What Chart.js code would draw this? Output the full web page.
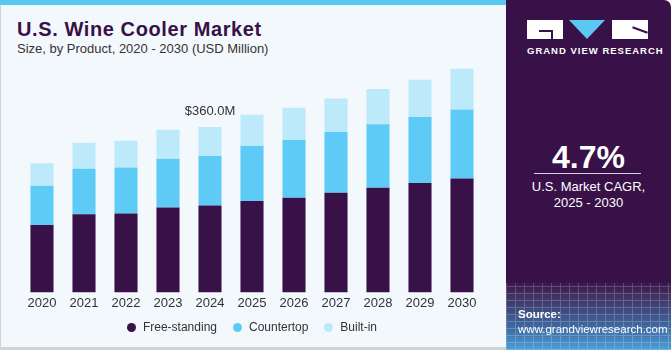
<!DOCTYPE html>
<html lang="en">
<head>
<meta charset="UTF-8">
<title>U.S. Wine Cooler Market</title>
<script src="https://cdn.jsdelivr.net/npm/chart.js"></script>
<style>
    body { margin: 0; width: 671px; height: 350px; overflow: hidden; font-family: "Liberation Sans", Arial, sans-serif; background: #fff; }
    .left-panel {
        position: absolute; left: 0; top: 0; width: 505px; height: 347px;
        background: #f3f8fc; border-left: 1px solid #d0d4d8; border-bottom: 3px solid #cfd3d6;
    }
    .stripe { position: absolute; left: 0; top: 0; width: 506px; height: 5px; background: #5bc8f2; }
    .title { position: absolute; left: 17px; top: 19px; font-size: 20px; line-height: 20px; font-weight: bold; letter-spacing: 0.6px; color: #371148; white-space: nowrap; }
    .subtitle { position: absolute; left: 17px; top: 41.5px; font-size: 13px; line-height: 13px; color: #333; white-space: nowrap; }
    .chart-box { position: absolute; left: 0; top: 40px; width: 506px; height: 283px; }
    .legend { position: absolute; left: 0; width: 504px; top: 319px; height: 16px; display: flex; justify-content: center; align-items: center; font-size: 12px; color: #333; }
    .legend span.item { display: flex; align-items: center; margin: 0 8px; }
    .legend span.dot { width: 9px; height: 9px; border-radius: 50%; margin-right: 7px; }
    .right-panel {
        position: absolute; left: 506px; top: 0; width: 165px; height: 350px;
        background: linear-gradient(to bottom, #371148 0px, #371148 280px, #40305e 295px, #3f6ea8 330px, #4c9fd8 350px);
        border-top-right-radius: 7px; overflow: hidden; color: #fff;
    }
    .grid {
        position: absolute; left: 0; top: 283px; width: 165px; height: 67px; opacity: 0.2;
        background-image: repeating-linear-gradient(90deg, #fff 0 1px, transparent 1px 9px), repeating-linear-gradient(0deg, #fff 0 1px, transparent 1px 7px);
    }
    .logo-block { position: absolute; top: 20px; height: 19px; width: 36px; background: #fff; }
    .logo-tri { position: absolute; top: 20px; left: 63px; width: 0; height: 0; border-left: 18.5px solid transparent; border-right: 18.5px solid transparent; border-top: 19px solid #5bc8f2; }
    .logo-text { position: absolute; left: 21px; top: 45px; width: 122px; text-align: center; font-size: 9.5px; font-weight: bold; letter-spacing: 1px; white-space: nowrap; }
    .cagr { position: absolute; left: 0; width: 165px; top: 139px; text-align: center; font-size: 32px; font-weight: bold; }
    .rule { position: absolute; left: 28px; width: 107px; top: 173px; height: 1px; background: #d8d0e0; }
    .cagr-label { position: absolute; left: 0; width: 165px; top: 179px; text-align: center; font-size: 13px; line-height: 16px; }
    .source { position: absolute; left: 12px; top: 307px; font-size: 11.5px; line-height: 15px; white-space: nowrap; }
</style>
</head>
<body>

<div class="left-panel"></div>
<div class="stripe"></div>
<div class="title">U.S. Wine Cooler Market</div>
<div class="subtitle">Size, by Product, 2020 - 2030 (USD Million)</div>
<div class="chart-box"><canvas id="chart"></canvas></div>
<div class="legend" id="legend"></div>

<div class="right-panel">
    <div class="grid"></div>
    <div class="logo-block" style="left:21px;"><div style="position:absolute;left:12px;top:10px;width:14px;height:2px;background:#371148;"></div><div style="position:absolute;left:24px;top:10px;width:2px;height:9px;background:#371148;"></div></div>
    <div class="logo-tri"></div>
    <div class="logo-block" style="left:106px;"><div style="position:absolute;left:20px;top:9px;width:16px;height:2px;background:#371148;transform:rotate(20deg);"></div></div>
    <div class="logo-text">GRAND VIEW RESEARCH</div>
    <div class="cagr">4.7%</div>
    <div class="rule"></div>
    <div class="cagr-label">U.S. Market CAGR,<br>2025 - 2030</div>
    <div class="source"><b>Source:</b><br>www.grandviewresearch.com</div>
</div>

<script>
// values (USD Million)
const years = ['2020', '2021', '2022', '2023', '2024', '2025', '2026', '2027', '2028', '2029', '2030'];
const freeStanding = [147, 170, 172, 185, 189, 199, 206, 217, 228, 238, 248];
const countertop = [85, 99, 100, 106, 108, 120, 126, 132, 138, 144, 150];
const builtIn = [49, 57, 58, 63, 63, 68, 70, 73, 77, 81, 89];
const seriesNames = ['Free-standing', 'Countertop', 'Built-in'];
const seriesColors = ['#371148', '#5ecbf7', '#bdeafa'];
const calloutIndex = 4;
const calloutText = '$360.0M';

const callout = {
    id: 'callout',
    afterDatasetsDraw(chart) {
        const meta = chart.getDatasetMeta(2);
        const bar = meta.data[calloutIndex];
        const ctx = chart.ctx;
        ctx.save();
        ctx.font = '13px "Liberation Sans", Arial, sans-serif';
        ctx.fillStyle = '#333';
        ctx.textAlign = 'center';
        ctx.textBaseline = 'middle';
        ctx.fillText(calloutText, bar.x, bar.y - 16);
        ctx.restore();
    }
};

const chart = new Chart(document.getElementById('chart'), {
    type: 'bar',
    data: {
        labels: years,
        datasets: [freeStanding, countertop, builtIn].map((vals, i) => ({
            label: seriesNames[i],
            data: vals,
            backgroundColor: seriesColors[i],
            categoryPercentage: 1,
            barPercentage: 0.55
        }))
    },
    options: {
        responsive: true,
        maintainAspectRatio: false,
        animation: false,
        layout: { padding: { top: 20, left: 21, right: 23, bottom: 9 } },
        plugins: { legend: { display: false }, tooltip: { enabled: false } },
        scales: {
            x: {
                stacked: true,
                grid: { display: false, drawTicks: false },
                border: { display: false },
                ticks: { color: '#333', font: { size: 13, family: '"Liberation Sans", Arial, sans-serif' }, padding: 3 }
            },
            y: { stacked: true, display: false, min: 0, max: 506 }
        }
    },
    plugins: [callout]
});

// legend built from the same series arrays
const legendEl = document.getElementById('legend');
seriesNames.forEach((name, i) => {
    legendEl.innerHTML += `<span class="item"><span class="dot" style="background:${seriesColors[i]}"></span>${name}</span>`;
});
</script>
</body>
</html>
